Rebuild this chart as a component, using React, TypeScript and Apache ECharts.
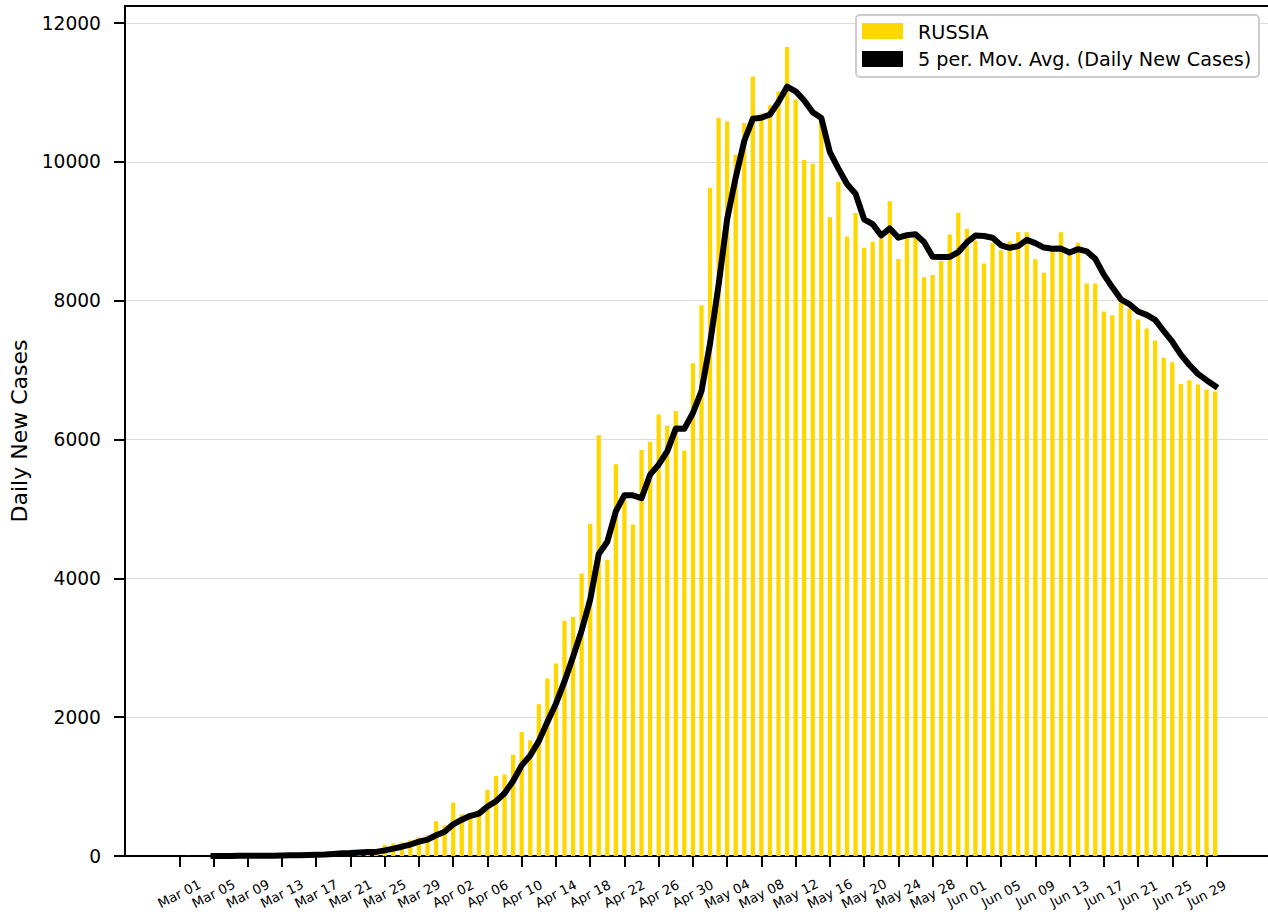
import React, { useEffect, useRef } from "react";
import * as echarts from "echarts";

// Daily new cases, one value per day starting Mar 01 (index 0) through Jun 30
const dailyNewCases = [
  0, 1, 0, 0, 1, 6, 0, 3, 0, 3, 8, 6, 17, 14, 4, 30, 21, 33, 52, 54, 53, 61, 71, 57, 163, 182, 196, 228, 270, 302, 501,
  440, 771, 601, 582, 658, 954, 1154, 1175, 1459, 1786, 1667, 2186, 2558, 2774, 3388, 3448, 4070, 4785, 6060, 4268,
  5642, 5236, 4774, 5849, 5966, 6361, 6198, 6411, 5841, 7099,
  7933, 9623, 10633, 10581, 10102, 10559, 11231, 10699, 10817, 11012, 11656, 10899, 10028, 9974, 10598, 9200, 9709,
  8926, 9263, 8764, 8849, 8894, 9434, 8599, 8946, 8915, 8338, 8371, 8572, 8952, 9268,
  9035, 8863, 8536, 8831, 8726, 8855, 8984, 8985, 8595, 8404, 8779, 8987, 8706, 8835, 8246, 8248, 7843, 7790, 7972,
  7889, 7728, 7600, 7425, 7176, 7113, 6800, 6852, 6791, 6719, 6693,
];

// 5-period moving average, one value per day starting Mar 05 (index 4)
const movingAverageStart = 4;
const movingAverage = [
  0.4, 1.6, 1.4, 2, 2, 2.4, 2.8, 4, 6.8, 9.6,
  9.8, 14.2, 17.2, 20.4, 28, 38, 42.6, 50.6, 58.2, 59.2,
  81, 106.8, 133.8, 165.2, 207.8, 235.6, 299.4, 348.2, 456.8, 523,
  579, 610.4, 713.2, 789.8, 904.6, 1080, 1305.6, 1448.2, 1654.6, 1931.2,
  2194.2, 2514.6, 2870.8, 3247.6, 3693, 4350.2, 4526.2, 4965, 5198.2, 5196,
  5153.8, 5493.4, 5637.2, 5829.6, 6157, 6155.4, 6382, 6696.4, 7381.4, 8225.8,
  9173.8, 9774.4, 10299.6, 10621.2, 10634.4, 10681.6, 10863.6, 11083, 11016.6, 10882.4,
  10713.8, 10631, 10139.8, 9901.8, 9681.4, 9539.2, 9172.4, 9102.2, 8939.2, 9040.8,
  8908, 8944.4, 8957.6, 8846.4, 8633.8, 8628.4, 8629.6, 8700.2, 8839.6, 8938,
  8930.8, 8906.6, 8798.2, 8762.2, 8786.4, 8876.2, 8829, 8764.6, 8749.4, 8750,
  8694.2, 8742.2, 8710.6, 8604.4, 8375.6, 8192.4, 8019.8, 7948.4, 7844.4, 7795.8,
  7722.8, 7563.6, 7408.4, 7222.8, 7073.2, 6946.4, 6855, 6771,
];

// X tick labels, every 4 days starting Mar 01
const tickLabels = [
  "Mar 01", "Mar 05", "Mar 09", "Mar 13", "Mar 17", "Mar 21", "Mar 25", "Mar 29",
  "Apr 02", "Apr 06", "Apr 10", "Apr 14", "Apr 18", "Apr 22", "Apr 26", "Apr 30",
  "May 04", "May 08", "May 12", "May 16", "May 20", "May 24", "May 28",
  "Jun 01", "Jun 05", "Jun 09", "Jun 13", "Jun 17", "Jun 21", "Jun 25", "Jun 29",
];
const tickStep = 4;

const yTicks = [0, 2000, 4000, 6000, 8000, 10000, 12000];

const seriesNames = ["RUSSIA", "5 per. Mov. Avg. (Daily New Cases)"];
const yAxisTitle = "Daily New Cases";

export default function App() {
  const ref = useRef<HTMLDivElement>(null);

  useEffect(() => {
    if (!ref.current) return;
    const chart = echarts.init(ref.current, null, { renderer: "svg" });
    const font = "DejaVu Sans";
    const xTickValues = tickLabels.map((_, i) => i * tickStep);
    const xMin = -6.34;
    const xMax = 127.18;

    chart.setOption({
      animation: false,
      textStyle: { fontFamily: font },
      grid: { left: 125, top: 6, right: 0, bottom: 67, containLabel: false },
      xAxis: [
        {
          type: "value",
          min: xMin,
          max: xMax,
          position: "bottom",
          axisLine: { show: true, onZero: false, lineStyle: { color: "#000", width: 2 } },
          axisTick: {
            show: true,
            length: 11,
            customValues: xTickValues,
            lineStyle: { color: "#000", width: 2 },
          },
          axisLabel: {
            customValues: xTickValues,
            formatter: (v: number) => tickLabels[Math.round(v / tickStep)] ?? "",
            rotate: 27,
            align: "center",
            verticalAlign: "middle",
            margin: 38,
            fontSize: 13.33,
            color: "#000",
            fontFamily: font,
          },
          splitLine: { show: false },
        },
        {
          type: "value",
          min: xMin,
          max: xMax,
          position: "top",
          axisLine: { show: true, onZero: false, lineStyle: { color: "#000", width: 2 } },
          axisTick: { show: false },
          axisLabel: { show: false },
          splitLine: { show: false },
        },
      ],
      yAxis: {
        type: "value",
        min: 0,
        max: 12245,
        interval: 2000,
        name: yAxisTitle,
        nameLocation: "middle",
        nameGap: 95,
        nameTextStyle: { fontSize: 22, color: "#000", fontFamily: font },
        axisLine: { show: true, onZero: false, lineStyle: { color: "#000", width: 2 } },
        axisTick: {
          show: true,
          length: 11,
          customValues: yTicks,
          lineStyle: { color: "#000", width: 2 },
        },
        axisLabel: {
          customValues: yTicks,
          formatter: (v: number) => (v % 2000 === 0 ? String(v) : ""),
          fontSize: 18.67,
          color: "#000",
          margin: 24,
          fontFamily: font,
        },
        splitLine: { show: true, lineStyle: { color: "#dcdcdc", width: 1 } },
      },
      series: [
        {
          name: seriesNames[0],
          type: "bar",
          xAxisIndex: 0,
          data: dailyNewCases.map((v, i) => [i, v]),
          barWidth: 4.3,
          itemStyle: { color: "#FFD700" },
          z: 2,
        },
        {
          name: seriesNames[1],
          type: "line",
          xAxisIndex: 0,
          data: movingAverage.map((v, i) => [i + movingAverageStart, v]),
          symbol: "none",
          showSymbol: false,
          lineStyle: { color: "#000", width: 6, cap: "square", join: "round" },
          z: 3,
        },
      ],
      graphic: [
        {
          type: "rect",
          z: 100,
          shape: { x: 856, y: 15, width: 403, height: 62, r: 4 },
          style: { fill: "rgba(255,255,255,0.85)", stroke: "#cccccc", lineWidth: 2 },
        },
        {
          type: "rect",
          z: 101,
          shape: { x: 862, y: 23, width: 41, height: 16 },
          style: { fill: "#FFD700" },
        },
        {
          type: "text",
          z: 101,
          x: 918,
          y: 32,
          style: {
            text: seriesNames[0],
            fontSize: 19.2,
            fontFamily: font,
            fill: "#000",
            verticalAlign: "middle",
          },
        },
        {
          type: "rect",
          z: 101,
          shape: { x: 862, y: 51, width: 41, height: 16 },
          style: { fill: "#000" },
        },
        {
          type: "text",
          z: 101,
          x: 918,
          y: 59.5,
          style: {
            text: seriesNames[1],
            fontSize: 19.2,
            fontFamily: font,
            fill: "#000",
            verticalAlign: "middle",
          },
        },
      ],
    });

    return () => {
      chart.dispose();
    };
  }, []);

  return (
    <div
      ref={ref}
      style={{ position: "fixed", left: 0, top: 0, width: 1268, height: 923, background: "#fff" }}
    />
  );
}
